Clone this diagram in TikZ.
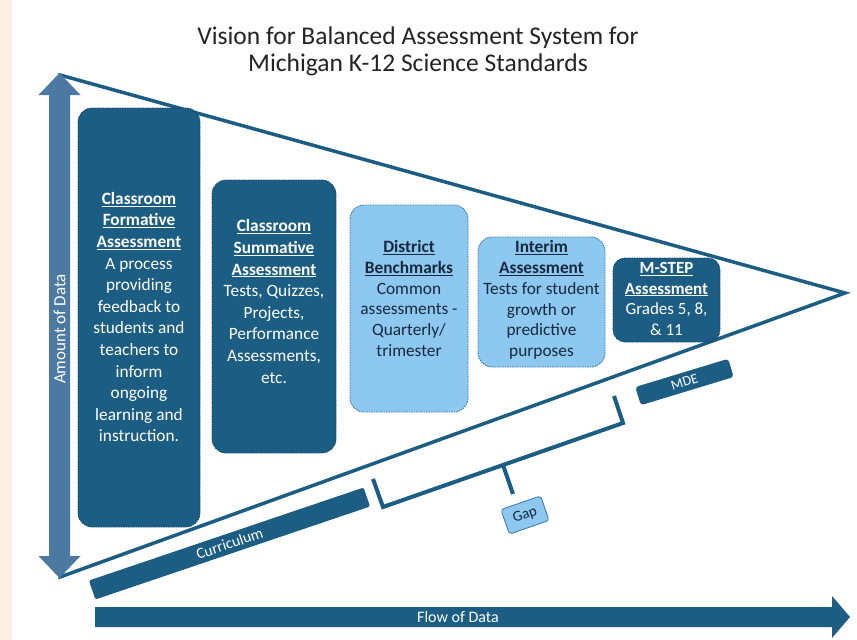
\documentclass[tikz,border=0pt]{standalone}
\usepackage{fontspec}
\setmainfont{Carlito}
\usetikzlibrary{calc}

\definecolor{navy}{RGB}{27,93,131}
\definecolor{navyline}{RGB}{18,72,106}
\definecolor{steel}{RGB}{75,121,161}
\definecolor{sky}{RGB}{140,200,240}
\definecolor{skyline}{RGB}{58,118,168}
\definecolor{ink}{RGB}{25,40,60}
\definecolor{beige}{RGB}{252,240,229}
\definecolor{titlegray}{RGB}{35,35,35}

\newcommand{\boxhead}[1]{\textbf{\underline{#1}}}

\tikzset{
  darkbox/.style={fill=navy, draw=navyline, line width=0.8pt, dash pattern=on 1.5pt off 1pt,
    rounded corners=14pt, inner sep=0pt},
  lightbox/.style={fill=sky, draw=skyline, line width=0.9pt, dash pattern=on 1.5pt off 1pt,
    rounded corners=14pt, inner sep=0pt},
  textdark/.style={text=white, align=center, inner sep=0pt, font=\fontsize{17.3}{21.6}\selectfont},
  textlight/.style={text=ink, align=center, inner sep=0pt, font=\fontsize{17.3}{20.7}\selectfont},
  bar/.style={fill=navy, rounded corners=2pt, inner sep=0pt, text=white},
  rim/.style={draw=navy, line width=3.5pt, line join=miter},
  bracket/.style={draw=navy, line width=4pt, line join=miter},
  gapbox/.style={fill=sky, draw=skyline, line width=0.8pt, rounded corners=3pt, inner sep=0pt,
    text=ink, font=\fontsize{15}{17}\selectfont},
  heading/.style={text=titlegray, align=center, inner sep=0pt, font=\fontsize{25.5}{27}\selectfont}
}

\begin{document}
\begin{tikzpicture}[x=1pt, y=-1pt]
  \useasboundingbox (0,0) rectangle (857,640);
  \fill[white] (0,0) rectangle (857,640);
  \fill[beige] (0,0) rectangle (12,640);

  % title
  \node[heading] (title) at (418,51.5)
    {Vision for Balanced Assessment System for\\Michigan K-12 Science Standards};

  % the funnel outline
  \coordinate (apexTop) at (60,75);
  \coordinate (apexTip) at (845,293);
  \coordinate (apexLow) at (60,577);
  \draw[rim] (apexTop) -- (apexTip) -- (apexLow) -- cycle;

  % assessment boxes
  \node[darkbox, minimum width=122, minimum height=419] (formative) at (139,317.5) {};
  \node[darkbox, minimum width=124, minimum height=273] (summative) at (274,316.5) {};
  \node[lightbox, minimum width=118, minimum height=207] (district) at (409,308.5) {};
  \node[lightbox, minimum width=127, minimum height=130] (interim) at (541.5,302) {};
  \node[darkbox, minimum width=107, minimum height=84, rounded corners=12pt] (mstep) at (666.5,300) {};

  \node[textdark] (formative-text) at (139,317)
    {\boxhead{Classroom}\\\boxhead{Formative}\\\boxhead{Assessment}\\A process\\providing\\feedback to\\students and\\teachers to\\inform\\ongoing\\learning and\\instruction.};
  \node[textdark] (summative-text) at (274,301.5)
    {\boxhead{Classroom}\\\boxhead{Summative}\\\boxhead{Assessment}\\Tests, Quizzes,\\Projects,\\Performance\\Assessments,\\etc.};
  \node[textlight] (district-text) at (409,298.5)
    {\boxhead{District}\\\boxhead{Benchmarks}\\Common\\assessments -\\Quarterly/\\trimester};
  \node[textlight] (interim-text) at (541.5,300)
    {\boxhead{Interim}\\\boxhead{Assessment}\\Tests for student\\growth or\\predictive\\purposes};
  \node[textdark, font=\fontsize{17}{20.7}\selectfont] (mstep-text) at (666.5,299)
    {\boxhead{M-STEP}\\\boxhead{Assessment}\\Grades 5, 8,\\\& 11};

  % amount of data: double-headed vertical arrow
  \fill[steel] (59.5,73) -- (80.5,95) -- (70,95) -- (70,556) -- (80.5,556) -- (59.5,578)
    -- (38.5,556) -- (49,556) -- (49,95) -- (38.5,95) -- cycle;
  \node[rotate=90, text=white, inner sep=0pt, font=\fontsize{17}{19}\selectfont] (amount) at (59.5,329) {Amount of Data};

  % flow of data: horizontal arrow
  \fill[navy] (95,607) -- (832,607) -- (832,596) -- (850,617) -- (832,638) -- (832,627) -- (95,627) -- cycle;
  \node[text=white, inner sep=0pt, font=\fontsize{16}{18}\selectfont] (flow) at (458,617) {Flow of Data};

  % slanted bars
  \node[bar, minimum width=290, minimum height=20, rotate=18.7, font=\fontsize{15.5}{17}\selectfont]
    (curriculum) at (229.5,543.5) {Curriculum};
  \node[bar, minimum width=97, minimum height=19, rotate=16.9, rounded corners=3pt, font=\fontsize{14}{16}\selectfont]
    (mde) at (684.5,382) {MDE};

  % gap bracket
  \coordinate (gapL) at (383,507);
  \coordinate (gapR) at (623,423);
  \coordinate (gapLtip) at (373,479);
  \coordinate (gapRtip) at (614,396);
  \draw[bracket] (gapLtip) -- (gapL) -- (gapR) -- (gapRtip);
  \coordinate (gapMid) at ($(gapL)!0.5!(gapR)$);
  \coordinate (stemEnd) at (513,494);
  \draw[bracket] (gapMid) -- (stemEnd);
  \node[gapbox, rotate=19, minimum width=42, minimum height=26] (gap) at (525,515) {Gap};
\end{tikzpicture}
\end{document}
